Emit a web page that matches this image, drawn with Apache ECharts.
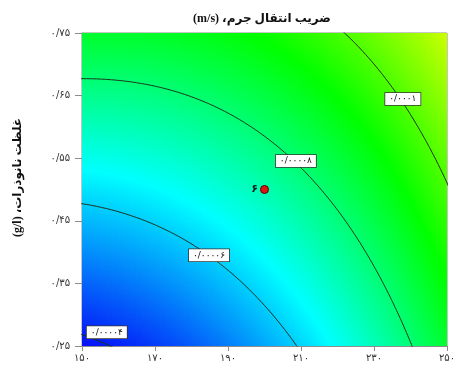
<!DOCTYPE html>
<html lang="fa">
<head>
<meta charset="utf-8">
<script src="https://cdn.jsdelivr.net/npm/echarts@6/dist/echarts.min.js"></script>
<style>
  html, body { margin: 0; padding: 0; background: #ffffff; }
  #chart { width: 459px; height: 365px; direction: rtl; }
</style>
</head>
<body>
<div id="chart"></div>
<script>
// Axis ticks and their Persian labels
const xTicks = [150, 170, 190, 210, 230, 250];
const xTickLabels = ['۱۵۰', '۱۷۰', '۱۹۰', '۲۱۰', '۲۳۰', '۲۵۰'];
const yTicks = [0.25, 0.35, 0.45, 0.55, 0.65, 0.75];
const yTickLabels = ['۰/۲۵', '۰/۳۵', '۰/۴۵', '۰/۵۵', '۰/۶۵', '۰/۷۵'];

// Coded factors: centre point and half-range of each factor
const factorCenter = [200, 0.5];
const factorHalfRange = [50, 0.25];

// Quadratic response-surface model (m/s): [b0, A, B, AB, A^2, B^2]
const modelCoefficients = [7.353e-5, 1.861e-5, 1.877e-5, -0.584e-5, 0.731e-5, 0.069e-5];

// Contour levels, their labels and where each label sits (x, y)
const contourLevels = [0.00004, 0.00006, 0.00008, 0.0001];
const contourLabels = ['۰/۰۰۰۰۴', '۰/۰۰۰۰۶', '۰/۰۰۰۰۸', '۰/۰۰۰۱'];
const contourLabelAt = [[156.8, 0.272], [184.8, 0.395], [208.6, 0.5455], [237.9, 0.6446]];

// Centre design point and its replicate count
const designPoint = [200, 0.5];
const designPointLabel = '۶';

// Response range spanned by the colour scale (blue -> red)
const colorScaleRange = [3.9e-5, 14.5e-5];

function response(x, y) {
  const a = (x - factorCenter[0]) / factorHalfRange[0];
  const b = (y - factorCenter[1]) / factorHalfRange[1];
  const c = modelCoefficients;
  return c[0] + c[1] * a + c[2] * b + c[3] * a * b + c[4] * a * a + c[5] * b * b;
}

// Surface cells
const xMin = xTicks[0], xMax = xTicks[xTicks.length - 1];
const yMin = yTicks[0], yMax = yTicks[yTicks.length - 1];
const NX = 122, NY = 104;
const cellW = (xMax - xMin) / NX, cellH = (yMax - yMin) / NY;
const cells = [];
for (let i = 0; i < NX; i++) {
  const x = xMin + (i + 0.5) * cellW;
  for (let j = 0; j < NY; j++) {
    const y = yMin + (j + 0.5) * cellH;
    cells.push([x, y, response(x, y)]);
  }
}

// Trace a contour of the model: solve B(a) for each coded A
function contourLine(level) {
  const c = modelCoefficients;
  const pts = [];
  const N = 900;
  for (let k = 0; k <= N; k++) {
    const a = -1.03 + 2.06 * k / N;
    const B = c[2] + c[3] * a;
    const C = c[0] + c[1] * a + c[4] * a * a - level;
    const disc = B * B - 4 * c[5] * C;
    if (disc < 0) continue;
    const b = -2 * C / (B + Math.sqrt(disc));
    if (b < -1.12 || b > 1.12) continue;
    pts.push([factorCenter[0] + factorHalfRange[0] * a, factorCenter[1] + factorHalfRange[1] * b]);
  }
  return pts;
}

function tickLabel(ticks, labels, v) {
  for (let i = 0; i < ticks.length; i++) {
    if (Math.abs(ticks[i] - v) < 1e-9) return labels[i];
  }
  return '';
}

const axisGray = '#8c8c8c';
const labelFont = '"DejaVu Sans", sans-serif';

const series = [{
  type: 'custom',
  data: cells,
  clip: true,
  silent: true,
  progressive: 0,
  encode: { x: 0, y: 1 },
  renderItem: function (params, api) {
    const p = api.coord([api.value(0) - cellW / 2, api.value(1) + cellH / 2]);
    const s = api.size([cellW, cellH]);
    return {
      type: 'rect',
      shape: { x: p[0], y: p[1], width: s[0] + 0.9, height: s[1] + 0.9 },
      style: { fill: api.visual('color') }
    };
  },
  z: 1
}];

contourLevels.forEach(function (lv) {
  series.push({
    type: 'line',
    data: contourLine(lv),
    showSymbol: false,
    symbol: 'none',
    smooth: false,
    clip: true,
    silent: true,
    lineStyle: { color: '#1c341c', width: 1 },
    z: 3
  });
});

series.push({
  type: 'scatter',
  data: contourLabelAt.map(function (p, i) { return [p[0], p[1], contourLabels[i]]; }),
  symbolSize: 0,
  silent: true,
  itemStyle: { opacity: 1 },
  label: {
    show: true,
    position: 'inside',
    formatter: function (p) { return p.data[2]; },
    fontFamily: labelFont,
    fontSize: 9,
    color: '#111111',
    opacity: 1,
    backgroundColor: '#ffffff',
    borderColor: '#333333',
    borderWidth: 0.8,
    padding: [2, 4, 1, 4]
  },
  z: 5
});

series.push({
  type: 'scatter',
  data: [designPoint],
  symbolSize: 8,
  silent: true,
  itemStyle: { color: '#dc1414', borderColor: '#5a0000', borderWidth: 1, opacity: 1 },
  label: {
    show: true,
    position: 'left',
    distance: 2,
    formatter: designPointLabel,
    fontFamily: labelFont,
    fontSize: 11,
    fontWeight: 'bold',
    color: '#1a1a1a'
  },
  z: 6
});

const chart = echarts.init(document.getElementById('chart'), null, { renderer: 'canvas' });
chart.setOption({
  animation: false,
  backgroundColor: '#ffffff',
  title: {
    text: 'ضریب انتقال جرم، (m/s)',
    left: 262,
    top: 13,
    padding: 0,
    textAlign: 'center',
    textStyle: {
      fontFamily: '"Liberation Serif", "DejaVu Sans", serif',
      fontSize: 12,
      fontWeight: 'bold',
      color: '#111111'
    }
  },
  grid: {
    left: 82, top: 33, right: 12, bottom: 19,
    show: true, borderColor: axisGray, borderWidth: 1, backgroundColor: 'transparent'
  },
  visualMap: {
    show: false,
    type: 'continuous',
    seriesIndex: 0,
    dimension: 2,
    min: colorScaleRange[0],
    max: colorScaleRange[1],
    inRange: { color: ['#0614f8', '#00ffff', '#00ff00', '#ffff00', '#ff0000'] }
  },
  xAxis: {
    type: 'value',
    min: xMin,
    max: xMax,
    splitLine: { show: false },
    axisLine: { show: true, lineStyle: { color: axisGray } },
    axisTick: { show: true, length: 5, customValues: xTicks, lineStyle: { color: axisGray } },
    axisLabel: {
      customValues: xTicks,
      formatter: function (v) { return tickLabel(xTicks, xTickLabels, v); },
      fontFamily: labelFont, fontSize: 10, color: '#333333', margin: 7
    }
  },
  yAxis: {
    type: 'value',
    min: yMin,
    max: yMax,
    name: 'غلظت نانوذرات، (g/l)',
    nameLocation: 'middle',
    nameRotate: 90,
    nameGap: 58,
    nameTextStyle: {
      fontFamily: '"Liberation Serif", "DejaVu Sans", serif',
      fontSize: 12, fontWeight: 'bold', color: '#111111',
      padding: [0, 0, 0, 24]
    },
    splitLine: { show: false },
    axisLine: { show: true, lineStyle: { color: axisGray } },
    axisTick: { show: true, length: 7, customValues: yTicks, lineStyle: { color: axisGray } },
    axisLabel: {
      customValues: yTicks,
      formatter: function (v) { return tickLabel(yTicks, yTickLabels, v); },
      fontFamily: labelFont, fontSize: 10, color: '#333333', margin: 12
    }
  },
  series: series
});
</script>
</body>
</html>
